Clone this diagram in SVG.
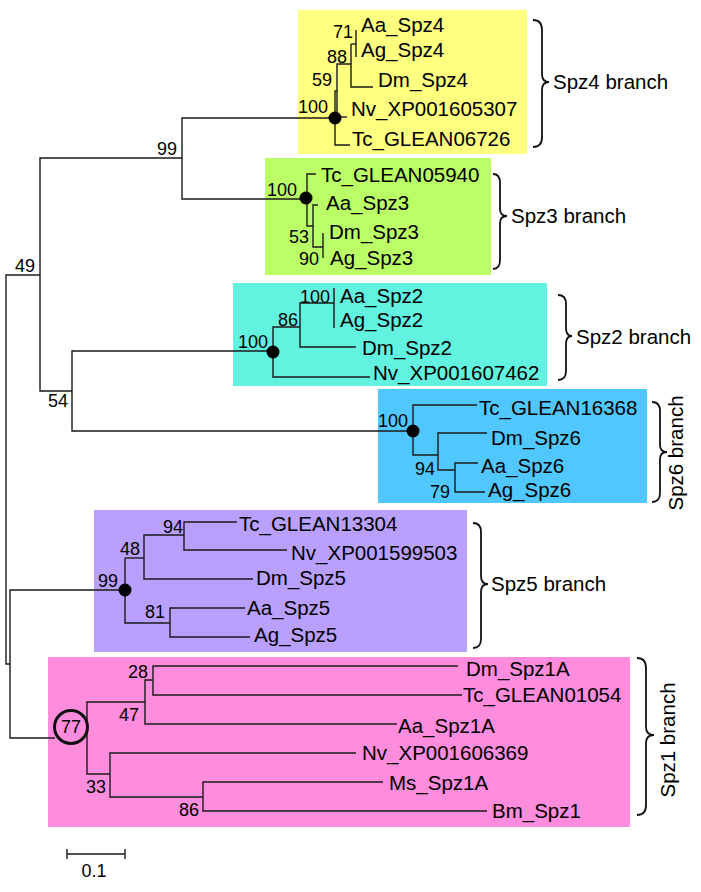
<svg xmlns="http://www.w3.org/2000/svg" width="701" height="892" viewBox="0 0 701 892">
<style>
text{font-family:"Liberation Sans",Arial,sans-serif;fill:#000}
.leaf{font-size:20.5px}
.bs{font-size:18px;text-anchor:end}
.br{font-size:20.5px}
.ln{fill:none;stroke:#1a1a1a;stroke-width:1.4}
.brace{fill:none;stroke:#111;stroke-width:1.8}
.dot{fill:#000}
</style>
<rect width="701" height="892" fill="#fff"/>
<g id="boxes">
<rect id="box-spz4" x="298" y="10" width="229" height="144" fill="#FFFF80"/>
<rect id="box-spz3" x="265" y="158" width="226" height="117" fill="#BBFF66"/>
<rect id="box-spz2" x="233" y="283" width="314" height="103" fill="#62F2E0"/>
<rect id="box-spz6" x="378" y="389" width="269" height="114" fill="#50C8FF"/>
<rect id="box-spz5" x="94" y="510" width="373" height="142" fill="#B9A0FF"/>
<rect id="box-spz1" x="48" y="657" width="582" height="170" fill="#FF8CDC"/>
</g>
<g id="connectors" class="ln">
<path d="M40,275 H6 V664 H10"/>
<path d="M125,590 H10 V738 H55"/>
<path d="M182,158 H40 V391 H72"/>
<path d="M335,118 H182 V199 H306"/>
<path d="M273,351 H72 V431 H413"/>
<path d="M350,145 H335 V91 H337"/>
<path d="M335,117 H347"/>
<path d="M337,117 V64 H351"/>
<path d="M351,44 V87 H373"/>
<path d="M351,44 H356"/>
<path d="M356,30 V57"/>
<path d="M316,174 H307 V226 H313"/>
<path d="M318,205 H313 V247 H323"/>
<path d="M323,233 V258"/>
<path d="M370,377 H273 V327 H300"/>
<path d="M356,347 H300 V303 H334"/>
<path d="M334,288 V328"/>
<path d="M477,405 H413 V455 H438"/>
<path d="M487,433 H438 V470 H455"/>
<path d="M478,463 H455 V492 H485"/>
<path d="M125,558 V623 H170"/>
<path d="M125,558 H144"/>
<path d="M253,579 H144 V535 H184"/>
<path d="M237,522 H184 V550 H287"/>
<path d="M245,608 H170 V637 H250"/>
<path d="M145,702 H87 V774 H110"/>
<path d="M397,724 H145 V680 H153"/>
<path d="M458,666 H153 V695 H462"/>
<path d="M356,753 H110 V797 H203"/>
<path d="M383,782 H203 V811 H487"/>
</g>
<g id="node-dots">
<circle class="dot" cx="335" cy="118" r="6.5"/>
<circle class="dot" cx="306" cy="198" r="6.5"/>
<circle class="dot" cx="273" cy="352" r="6.5"/>
<circle class="dot" cx="413" cy="431" r="6.5"/>
<circle class="dot" cx="125" cy="590" r="6.5"/>
<circle cx="71" cy="727" r="16.5" fill="none" stroke="#111" stroke-width="3"/>
</g>
<g id="support">
<text class="bs" x="35" y="272">49</text>
<text class="bs" x="177" y="155">99</text>
<text class="bs" x="68" y="407">54</text>
<text class="bs" x="353" y="38">71</text>
<text class="bs" x="347" y="63">88</text>
<text class="bs" x="332" y="86">59</text>
<text class="bs" x="328" y="113">100</text>
<text class="bs" x="297" y="196">100</text>
<text class="bs" x="309" y="243">53</text>
<text class="bs" x="319" y="265">90</text>
<text class="bs" x="268" y="348">100</text>
<text class="bs" x="298" y="326">86</text>
<text class="bs" x="330" y="303">100</text>
<text class="bs" x="408" y="427">100</text>
<text class="bs" x="435" y="475">94</text>
<text class="bs" x="450" y="498">79</text>
<text class="bs" x="118" y="587">99</text>
<text class="bs" x="140" y="555">48</text>
<text class="bs" x="183" y="533">94</text>
<text class="bs" x="165" y="618">81</text>
<text class="bs" x="148" y="678">28</text>
<text class="bs" x="139" y="721">47</text>
<text class="bs" x="71" y="733" style="text-anchor:middle">77</text>
<text class="bs" x="106" y="793">33</text>
<text class="bs" x="199" y="816">86</text>
</g>
<g id="clade-spz4" class="leaf">
<text id="Aa_Spz4" x="361" y="32">Aa_Spz4</text>
<text id="Ag_Spz4" x="361" y="57">Ag_Spz4</text>
<text id="Dm_Spz4" x="378" y="87">Dm_Spz4</text>
<text id="Nv_XP001605307" x="351" y="116">Nv_XP001605307</text>
<text id="Tc_GLEAN06726" x="352" y="146">Tc_GLEAN06726</text>
</g>
<g id="clade-spz3" class="leaf">
<text id="Tc_GLEAN05940" x="321" y="182">Tc_GLEAN05940</text>
<text id="Aa_Spz3" x="326" y="210">Aa_Spz3</text>
<text id="Dm_Spz3" x="329" y="239">Dm_Spz3</text>
<text id="Ag_Spz3" x="330" y="265">Ag_Spz3</text>
</g>
<g id="clade-spz2" class="leaf">
<text id="Aa_Spz2" x="340" y="303">Aa_Spz2</text>
<text id="Ag_Spz2" x="340" y="327">Ag_Spz2</text>
<text id="Dm_Spz2" x="362" y="355">Dm_Spz2</text>
<text id="Nv_XP001607462" x="373" y="380">Nv_XP001607462</text>
</g>
<g id="clade-spz6" class="leaf">
<text id="Tc_GLEAN16368" x="479" y="415">Tc_GLEAN16368</text>
<text id="Dm_Spz6" x="491" y="445">Dm_Spz6</text>
<text id="Aa_Spz6" x="481" y="473">Aa_Spz6</text>
<text id="Ag_Spz6" x="488" y="497">Ag_Spz6</text>
</g>
<g id="clade-spz5" class="leaf">
<text id="Tc_GLEAN13304" x="239" y="531">Tc_GLEAN13304</text>
<text id="Nv_XP001599503" x="291" y="560">Nv_XP001599503</text>
<text id="Dm_Spz5" x="256" y="585">Dm_Spz5</text>
<text id="Aa_Spz5" x="247" y="615">Aa_Spz5</text>
<text id="Ag_Spz5" x="254" y="642">Ag_Spz5</text>
</g>
<g id="clade-spz1" class="leaf">
<text id="Dm_Spz1A" x="466" y="676">Dm_Spz1A</text>
<text id="Tc_GLEAN01054" x="463" y="702">Tc_GLEAN01054</text>
<text id="Aa_Spz1A" x="398" y="733">Aa_Spz1A</text>
<text id="Nv_XP001606369" x="362" y="760">Nv_XP001606369</text>
<text id="Ms_Spz1A" x="389" y="790">Ms_Spz1A</text>
<text id="Bm_Spz1" x="492" y="818">Bm_Spz1</text>
</g>
<g id="branch-spz4">
<path class="brace" d="M533,20 Q542,20 542,30 V74 Q542,82 549,82 Q542,82 542,90 V137 Q542,147 533,147"/>
<text class="br" x="553" y="89">Spz4 branch</text>
</g>
<g id="branch-spz3">
<path class="brace" d="M493,174 Q500,174 500,183 V209 Q500,216 507,216 Q500,216 500,223 V260 Q500,269 493,269"/>
<text class="br" x="511" y="223">Spz3 branch</text>
</g>
<g id="branch-spz2">
<path class="brace" d="M558,295 Q566,295 566,304 V328 Q566,336 572,336 Q566,336 566,344 V371 Q566,380 558,380"/>
<text class="br" x="576" y="344">Spz2 branch</text>
</g>
<g id="branch-spz6">
<path class="brace" d="M652,402 Q660,402 660,411 V445 Q660,452 667,452 Q660,452 660,459 V493 Q660,502 652,502"/>
<text class="br" transform="translate(683,453) rotate(-90)" text-anchor="middle">Spz6 branch</text>
</g>
<g id="branch-spz5">
<path class="brace" d="M473,523 Q481,523 481,532 V576 Q481,584 488,584 Q481,584 481,592 V639 Q481,648 473,648"/>
<text class="br" x="491" y="591">Spz5 branch</text>
</g>
<g id="branch-spz1">
<path class="brace" d="M637,658 Q646,658 646,668 V727 Q646,735 654,735 Q646,735 646,743 V805 Q646,815 637,815"/>
<text class="br" transform="translate(675,740) rotate(-90)" text-anchor="middle">Spz1 branch</text>
</g>
<g id="scale-bar">
<path class="ln" d="M67,854 H125 M67,849 V859 M125,849 V859"/>
<text x="94" y="877" text-anchor="middle" style="font-size:18px">0.1</text>
</g>
</svg>
